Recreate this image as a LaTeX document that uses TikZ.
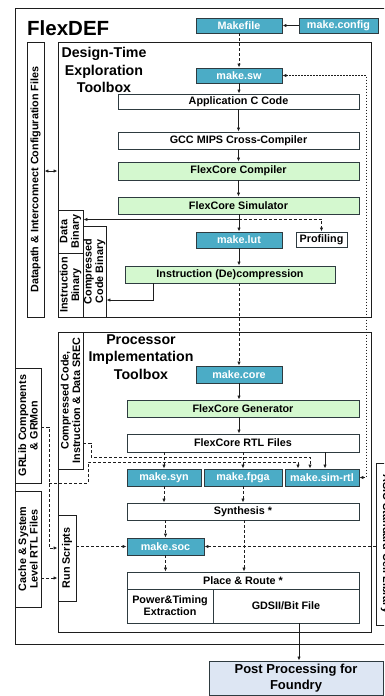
\documentclass[tikz,border=0pt]{standalone}
\usepackage{fontspec}
\setsansfont{Liberation Sans}
\usetikzlibrary{arrows.meta, positioning, calc}
\definecolor{flexTeal}{HTML}{4BACC6}
\definecolor{flexEdge}{HTML}{2E3B40}
\definecolor{flexGreen}{HTML}{D4F8CF}
\definecolor{flexBlue}{HTML}{DDE6F3}
\definecolor{flexLine}{HTML}{1E1E1E}
\tikzset{
    makebox/.style={rectangle, draw=flexEdge, fill=flexTeal, line width=0.9pt, text=white, minimum height=16pt, inner sep=0pt, font=\sffamily\bfseries\fontsize{10.8}{12}\selectfont},
    stagebox/.style={rectangle, draw=flexEdge, fill=white, line width=0.9pt, minimum width=232pt, minimum height=17pt, inner sep=0pt, align=center, font=\sffamily\bfseries\fontsize{10.8}{12}\selectfont},
    corebox/.style={stagebox, fill=flexGreen},
    toolbox/.style={rectangle, draw=flexLine, line width=0.9pt, inner sep=0pt},
    filebox/.style={rectangle, draw=flexLine, fill=white, line width=0.9pt, inner sep=0pt, align=center, font=\sffamily\bfseries\fontsize{10.8}{11.5}\selectfont},
    boxtitle/.style={align=center, inner sep=0pt, font=\sffamily\bfseries\fontsize{14.2}{17.5}\selectfont},
    arrow/.style={-{Latex[length=4pt,width=3.4pt]}, line width=0.8pt, draw=flexLine},
    biarrow/.style={{Latex[length=4pt,width=3.4pt]}-{Latex[length=4pt,width=3.4pt]}, line width=0.8pt, draw=flexLine},
    dashedarrow/.style={arrow, dash pattern=on 3pt off 2pt},
    dottedarrow/.style={biarrow, line width=0.7pt, dash pattern=on 1.6pt off 1.4pt},
}
\begin{document}
\begin{tikzpicture}[x=1pt, y=-1pt]
    \useasboundingbox (0,0) rectangle (384,696);
    \clip (0,0) rectangle (384,696);

    % framework and toolboxes
    \node[toolbox, minimum width=400pt, minimum height=636pt] (flexdef) at (215,326) {};
    \node[anchor=base west, inner sep=0pt, font=\sffamily\bfseries\fontsize{20.5}{24}\selectfont] (flextitle) at (27,35) {FlexDEF};
    \node[toolbox, minimum width=313pt, minimum height=275pt] (dte) at (214.5,179.5) {};
    \node[boxtitle] (dtetitle) at (104,70) {Design-Time\\Exploration\\Toolbox};
    \node[toolbox, minimum width=313pt, minimum height=300pt] (pit) at (214.5,482) {};
    \node[boxtitle] (pittitle) at (141,357) {Processor\\Implementation\\Toolbox};

    % make targets
    \node[makebox, minimum width=86pt, minimum height=15pt] (makefile) at (239,25.5) {Makefile};
    \node[makebox, minimum width=79pt, minimum height=15pt] (makeconfig) at (338.5,25.5) {make.config};
    \node[makebox, minimum width=86pt, minimum height=15pt] (makesw) at (239,75.5) {make.sw};
    \node[makebox, minimum width=86pt] (makelut) at (239,240) {make.lut};
    \node[makebox, minimum width=86pt, minimum height=17pt] (makecore) at (239,374.5) {make.core};
    \node[makebox, minimum width=74pt, minimum height=17pt] (makesyn) at (164,477.5) {make.syn};
    \node[makebox, minimum width=78pt, minimum height=17pt] (makefpga) at (243,477.5) {make.fpga};
    \node[makebox, minimum width=74pt, minimum height=17pt] (makesimrtl) at (322,477.5) {make.sim-rtl};
    \node[makebox, minimum width=77pt, minimum height=17pt] (makesoc) at (165.5,546.5) {make.soc};

    % design-time stages
    \node[stagebox, minimum width=241pt, minimum height=15pt] (appcode) at (238.5,101.5) {Application C Code};
    \node[stagebox, minimum width=241pt] (gcc) at (238.5,140.5) {GCC MIPS Cross-Compiler};
    \node[corebox, minimum width=241pt, minimum height=18pt] (compiler) at (238.5,171) {FlexCore Compiler};
    \node[corebox, minimum width=241pt] (simulator) at (238.5,205.5) {FlexCore Simulator};
    \node[stagebox, minimum width=51pt, minimum height=15pt] (profiling) at (321.5,239.5) {Profiling};
    \node[corebox, minimum width=210pt] (decomp) at (230,274.5) {Instruction (De)compression};

    % implementation stages
    \node[corebox] (generator) at (243,408.5) {FlexCore Generator};
    \node[stagebox, minimum height=18pt] (rtlfiles) at (243,443) {FlexCore RTL Files};
    \node[stagebox] (synthesis) at (243,511.5) {Synthesis *};
    \node[stagebox] (placeroute) at (243,580.5) {Place \& Route *};
    \node[stagebox, minimum width=86pt, minimum height=34pt] (power) at (170,606) {Power\&Timing\\Extraction};
    \node[stagebox, minimum width=146pt, minimum height=34pt] (gdsii) at (286,606) {GDSII/Bit File};
    \node[stagebox, fill=flexBlue, minimum width=174pt, minimum height=34pt, font=\sffamily\bfseries\fontsize{13}{16.5}\selectfont] (postproc) at (296,678) {Post Processing for\\Foundry};

    % side files
    \node[filebox, rotate=90, minimum width=275pt, minimum height=17pt] (cfgfiles) at (35.5,179.5) {Datapath \& Interconnect Configuration Files};
    \node[filebox, rotate=90, minimum width=43pt, minimum height=25pt] (databin) at (70.5,231.5) {Data\\Binary};
    \node[filebox, rotate=90, minimum width=64pt, minimum height=25pt] (instrbin) at (70.5,285) {Instruction\\Binary};
    \node[filebox, rotate=90, minimum width=91pt, minimum height=23pt] (compbin) at (94.5,271.5) {Compressed\\Code Binary};
    \node[filebox, rotate=90, minimum width=137pt, minimum height=25pt] (srec) at (70.5,400.5) {Compressed Code,\\Instruction \& Data SREC};
    \node[filebox, rotate=90, minimum width=115pt, minimum height=26pt] (grlib) at (28,425.5) {GRLib Components\\\& GRMon};
    \node[filebox, rotate=90, minimum width=116pt, minimum height=26pt] (cache) at (28,549) {Cache \& System\\Level RTL Files};
    \node[filebox, rotate=90, minimum width=86pt, minimum height=18pt] (runscripts) at (67,558) {Run Scripts};
    \node[filebox, rotate=-90, minimum width=162pt, minimum height=20pt] (asic) at (386,544) {ASIC Standard Cell Library};

    % helper points
    \coordinate (simfork) at ($(simulator.south)+(0,5)$);
    \coordinate (simreturn) at (366,477.5);
    \coordinate (srecbend) at (91,457);
    \coordinate (grlibdrop) at (49,427);
    \coordinate (grlibbend) at (49,483);
    \coordinate (grlibrise) at (88,462);

    % design-time flow
    \draw[arrow] (makeconfig) -- (makefile);
    \draw[dashedarrow] (makefile) -- (makesw);
    \draw[arrow] (makesw) -- (makesw |- appcode.north);
    \draw[arrow] (appcode) -- (gcc);
    \draw[arrow] (gcc) -- (compiler);
    \draw[arrow] (compiler) -- (simulator);
    \draw[arrow] (simulator.south -| makelut) -- (makelut);
    \draw[arrow] (simfork) -- (simfork -| databin.south);
    \draw[dashedarrow] (simfork) -| (profiling.north);
    \draw[biarrow] (cfgfiles.south |- 0,171) -- (dte.west |- 0,171);
    \draw[arrow] (makelut) -- (makelut |- decomp.north);
    \draw[arrow] (decomp.south -| 153,0) |- (compbin.south |- 0,300);
    \draw[dottedarrow] (makesw.east) -| (simreturn) -- (makesimrtl.east);

    % implementation flow
    \draw[dashedarrow] (decomp.south -| makecore) -- (makecore);
    \draw[arrow] (makecore) -- (makecore |- generator.north);
    \draw[arrow] (generator.south -| makecore) -- (rtlfiles.north -| makecore);
    \draw[dashedarrow] (rtlfiles.south -| makesyn) -- (makesyn);
    \draw[dashedarrow] (rtlfiles.south -| makefpga) -- (makefpga);
    \draw[arrow] (rtlfiles.south -| 325,0) -- (makesimrtl.north -| 325,0);
    \draw[dashedarrow] (srec.south |- 0,443) -| (srecbend) -| (makesimrtl.north -| 310,0);
    \draw[dashedarrow] (grlib.south |- grlibdrop) -- (grlibdrop) |- (runscripts.north |- 0,548);
    \draw[dashedarrow] (grlibbend) -| (grlibrise) -| (makesimrtl.north -| 298,0);
    \draw[dashedarrow] (cache.south |- 0,578) -- (runscripts.north |- 0,578);
    \draw[dashedarrow] (runscripts.south |- makesoc) -- (makesoc);
    \draw[dashedarrow] (asic.south |- makesoc) -- (makesoc);
    \draw[dashedarrow] (makesyn) -- (makesyn |- synthesis.north);
    \draw[dashedarrow] (makefpga) -- (makefpga |- synthesis.north);
    \draw[dashedarrow] (synthesis.south -| makesoc) -- (makesoc);
    \draw[dashedarrow] (synthesis.south -| 244,0) -- (placeroute.north -| 244,0);
    \draw[dashedarrow] (makesoc) -- (makesoc |- placeroute.north);
    \draw[arrow] (gdsii.south -| 299,0) -- (postproc.north -| 299,0);
\end{tikzpicture}
\end{document}
